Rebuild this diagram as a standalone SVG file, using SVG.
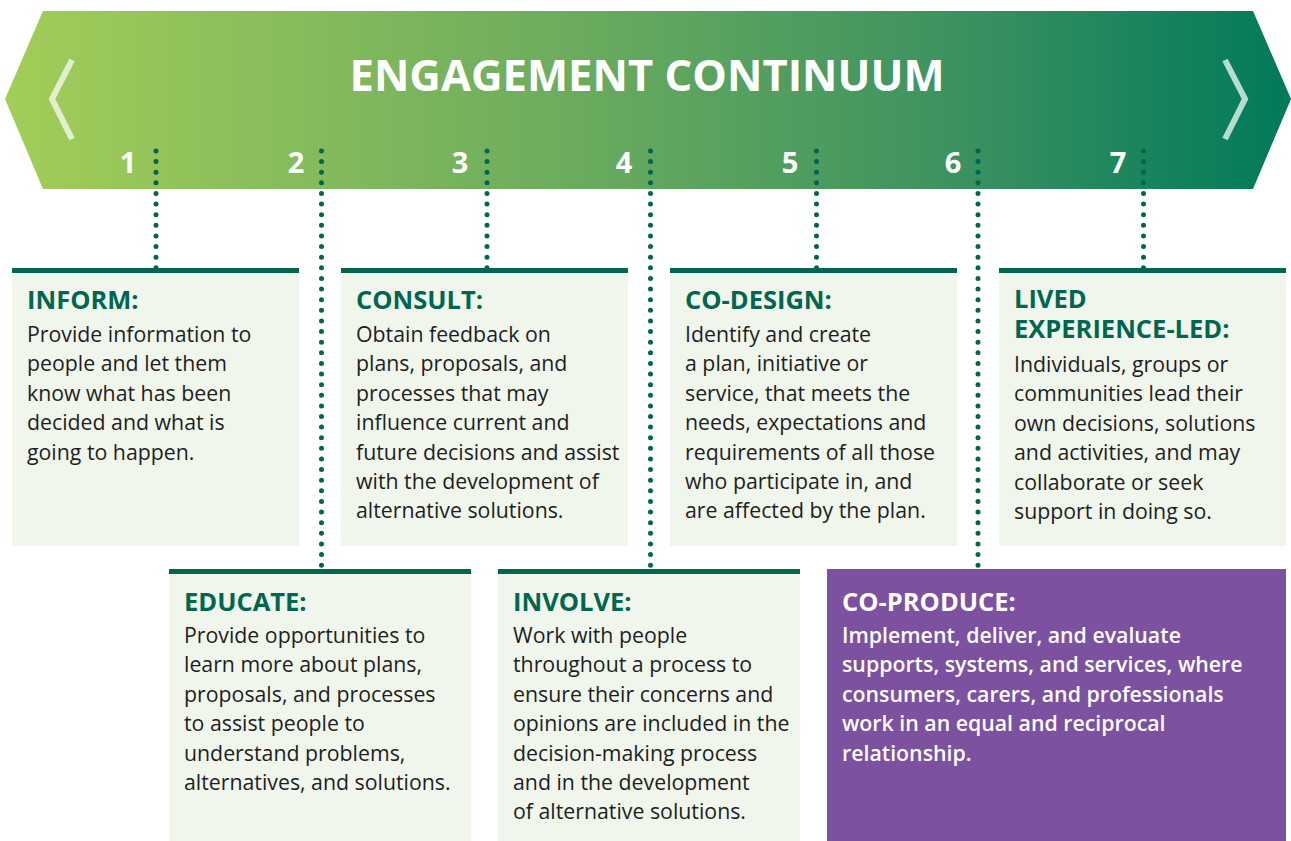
<svg xmlns="http://www.w3.org/2000/svg" width="1291" height="841" viewBox="0 0 1291 841">
  <defs>
    <linearGradient id="bannerGrad" x1="0" y1="0" x2="1" y2="0">
      <stop offset="0" stop-color="#a3cd58"/>
      <stop offset="0.45" stop-color="#6aab5e"/>
      <stop offset="0.75" stop-color="#3a9160"/>
      <stop offset="1" stop-color="#00795a"/>
    </linearGradient>
  </defs>
  <style>
    .box { fill: #f1f6ec; }
    .bar { fill: #00664f; }
    .purple { fill: #7b51a0; }
    .head { font-family: "Open Sans", "Liberation Sans", sans-serif; font-weight: 700; font-size: 25.5px; fill: #00664f; }
    .body { font-family: "Open Sans", "Liberation Sans", sans-serif; font-weight: 400; font-size: 21.3px; fill: #1e1e1e; }
    .head-w { font-family: "Open Sans", "Liberation Sans", sans-serif; font-weight: 700; font-size: 25.5px; fill: #ffffff; }
    .body-w { font-family: "Open Sans", "Liberation Sans", sans-serif; font-weight: 600; font-size: 21.3px; fill: #ffffff; }
    .num { font-family: "Open Sans", "Liberation Sans", sans-serif; font-weight: 700; font-size: 29px; fill: #ffffff; text-anchor: middle; }
    .title { font-family: "Open Sans", "Liberation Sans", sans-serif; font-weight: 700; font-size: 43.6px; fill: #ffffff; text-anchor: middle; }
    .dots { stroke: #00664f; stroke-width: 5; stroke-linecap: round; stroke-dasharray: 0 10.62; fill: none; }
  </style>

  <!-- banner -->
  <g id="banner">
    <polygon points="5,99 43,11 1253,11 1291,99 1253,189 43,189" fill="url(#bannerGrad)"/>
    <polyline points="72,60 52,99 72,139" fill="none" stroke="#e2efcf" stroke-width="6"/>
    <polyline points="1225,60 1245,99 1225,139" fill="none" stroke="#b5dccd" stroke-width="6"/>
    <text class="title" x="647" y="91">ENGAGEMENT CONTINUUM</text>
    <text class="num" x="128" y="173">1</text>
    <text class="num" x="296" y="173">2</text>
    <text class="num" x="460" y="173">3</text>
    <text class="num" x="624" y="173">4</text>
    <text class="num" x="790" y="173">5</text>
    <text class="num" x="953" y="173">6</text>
    <text class="num" x="1118" y="173">7</text>
  </g>

  <!-- stage boxes, top row -->
  <g id="inform">
    <rect class="box" x="12" y="268" width="287" height="278"/>
    <rect class="bar" x="12" y="268" width="287" height="5"/>
    <text class="head" x="27" y="309">INFORM:</text>
    <text class="body" x="27" y="342">
      <tspan x="27" dy="0">Provide information to</tspan>
      <tspan x="27" dy="29.4">people and let them</tspan>
      <tspan x="27" dy="29.4">know what has been</tspan>
      <tspan x="27" dy="29.4">decided and what is</tspan>
      <tspan x="27" dy="29.4">going to happen.</tspan>
    </text>
  </g>

  <g id="consult">
    <rect class="box" x="341" y="268" width="287" height="278"/>
    <rect class="bar" x="341" y="268" width="287" height="5"/>
    <text class="head" x="356" y="309">CONSULT:</text>
    <text class="body" x="356" y="342">
      <tspan x="356" dy="0">Obtain feedback on</tspan>
      <tspan x="356" dy="29.4">plans, proposals, and</tspan>
      <tspan x="356" dy="29.4">processes that may</tspan>
      <tspan x="356" dy="29.4">influence current and</tspan>
      <tspan x="356" dy="29.4">future decisions and assist</tspan>
      <tspan x="356" dy="29.4">with the development of</tspan>
      <tspan x="356" dy="29.4">alternative solutions.</tspan>
    </text>
  </g>

  <g id="co-design">
    <rect class="box" x="670" y="268" width="287" height="278"/>
    <rect class="bar" x="670" y="268" width="287" height="5"/>
    <text class="head" x="685" y="309">CO-DESIGN:</text>
    <text class="body" x="685" y="342">
      <tspan x="685" dy="0">Identify and create</tspan>
      <tspan x="685" dy="29.4">a plan, initiative or</tspan>
      <tspan x="685" dy="29.4">service, that meets the</tspan>
      <tspan x="685" dy="29.4">needs, expectations and</tspan>
      <tspan x="685" dy="29.4">requirements of all those</tspan>
      <tspan x="685" dy="29.4">who participate in, and</tspan>
      <tspan x="685" dy="29.4">are affected by the plan.</tspan>
    </text>
  </g>

  <g id="lived-experience-led">
    <rect class="box" x="999" y="268" width="287" height="278"/>
    <rect class="bar" x="999" y="268" width="287" height="5"/>
    <text class="head" x="1014" y="308">
      <tspan x="1014" dy="0">LIVED</tspan>
      <tspan x="1014" dy="30">EXPERIENCE-LED:</tspan>
    </text>
    <text class="body" x="1014" y="372">
      <tspan x="1014" dy="0">Individuals, groups or</tspan>
      <tspan x="1014" dy="29.4">communities lead their</tspan>
      <tspan x="1014" dy="29.4">own decisions, solutions</tspan>
      <tspan x="1014" dy="29.4">and activities, and may</tspan>
      <tspan x="1014" dy="29.4">collaborate or seek</tspan>
      <tspan x="1014" dy="29.4">support in doing so.</tspan>
    </text>
  </g>

  <!-- stage boxes, bottom row -->
  <g id="educate">
    <rect class="box" x="169" y="569" width="302" height="272"/>
    <rect class="bar" x="169" y="569" width="302" height="5"/>
    <text class="head" x="184" y="611">EDUCATE:</text>
    <text class="body" x="184" y="643">
      <tspan x="184" dy="0">Provide opportunities to</tspan>
      <tspan x="184" dy="29.4">learn more about plans,</tspan>
      <tspan x="184" dy="29.4">proposals, and processes</tspan>
      <tspan x="184" dy="29.4">to assist people to</tspan>
      <tspan x="184" dy="29.4">understand problems,</tspan>
      <tspan x="184" dy="29.4">alternatives, and solutions.</tspan>
    </text>
  </g>

  <g id="involve">
    <rect class="box" x="498" y="569" width="302" height="272"/>
    <rect class="bar" x="498" y="569" width="302" height="5"/>
    <text class="head" x="513" y="611">INVOLVE:</text>
    <text class="body" x="513" y="643">
      <tspan x="513" dy="0">Work with people</tspan>
      <tspan x="513" dy="29.4">throughout a process to</tspan>
      <tspan x="513" dy="29.4">ensure their concerns and</tspan>
      <tspan x="513" dy="29.4">opinions are included in the</tspan>
      <tspan x="513" dy="29.4">decision-making process</tspan>
      <tspan x="513" dy="29.4">and in the development</tspan>
      <tspan x="513" dy="29.4">of alternative solutions.</tspan>
    </text>
  </g>

  <g id="co-produce">
    <rect class="purple" x="827" y="569" width="459" height="272"/>
    <text class="head-w" x="842" y="611">CO-PRODUCE:</text>
    <text class="body-w" x="842" y="643">
      <tspan x="842" dy="0">Implement, deliver, and evaluate</tspan>
      <tspan x="842" dy="29.4">supports, systems, and services, where</tspan>
      <tspan x="842" dy="29.4">consumers, carers, and professionals</tspan>
      <tspan x="842" dy="29.4">work in an equal and reciprocal</tspan>
      <tspan x="842" dy="29.4">relationship.</tspan>
    </text>
  </g>

  <!-- dotted connectors from the numbers down to each box -->
  <g id="connectors">
    <path class="dots" d="M156,151 V268"/>
    <path class="dots" d="M321.5,151 V565.4"/>
    <path class="dots" d="M487,151 V268"/>
    <path class="dots" d="M650.5,151 V565.4"/>
    <path class="dots" d="M816.5,151 V268"/>
    <path class="dots" d="M978,151 V565.4"/>
    <path class="dots" d="M1143.5,151 V268"/>
  </g>
</svg>
